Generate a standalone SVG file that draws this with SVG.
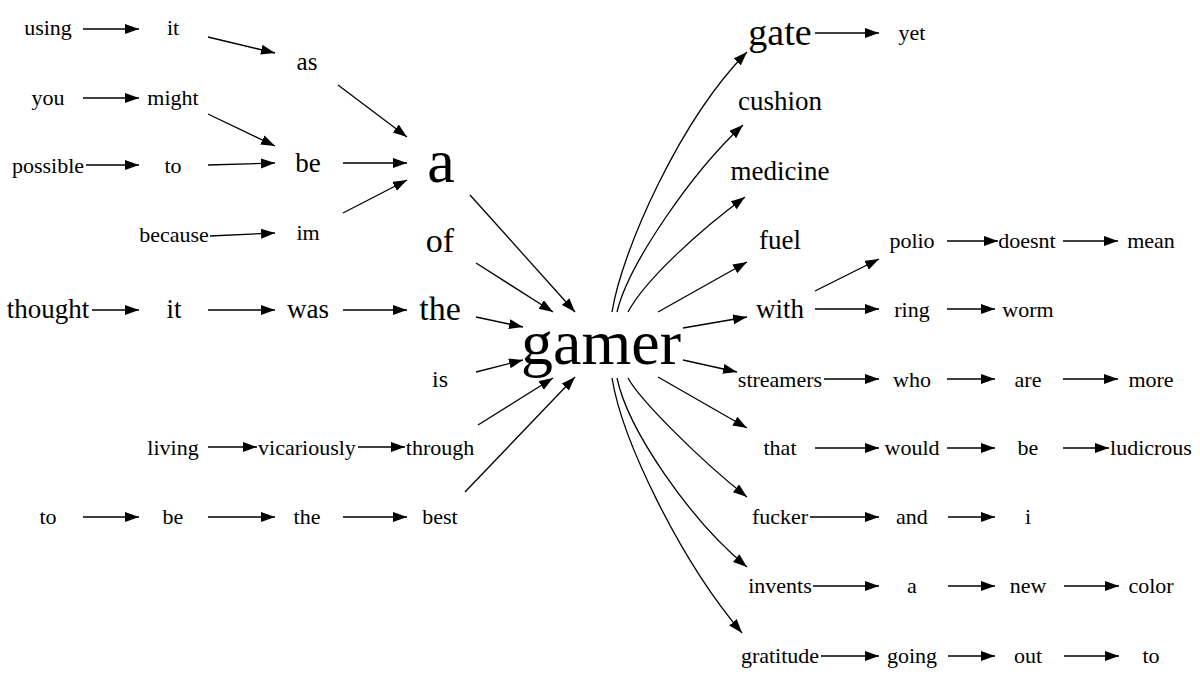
<svg xmlns="http://www.w3.org/2000/svg" width="1200" height="684" viewBox="0 0 1200 684" font-family="'Liberation Serif', 'Times New Roman', serif">
<style>
text{font-family:"Liberation Serif","Times New Roman",serif;fill:#000;text-anchor:middle}
.s{font-size:22px}.m{font-size:27px}.l{font-size:34px}
.e{fill:none;stroke:#000;stroke-width:1.3;marker-end:url(#ah)}
</style>
<defs>
<marker id="ah" markerUnits="userSpaceOnUse" markerWidth="15" markerHeight="11" refX="14" refY="5" orient="auto"><path d="M0,0 L14,5 L0,10 z" fill="#000"/></marker>
</defs>
<rect width="1200" height="684" fill="#fff"/>
<g id="edges">
<line class="e" x1="83" y1="29" x2="139" y2="29"/>
<line class="e" x1="208" y1="37" x2="275" y2="53"/>
<line class="e" x1="83" y1="98" x2="139" y2="98"/>
<line class="e" x1="208" y1="114" x2="275" y2="146"/>
<line class="e" x1="86" y1="165" x2="139" y2="165"/>
<line class="e" x1="208" y1="165" x2="275" y2="163"/>
<line class="e" x1="210" y1="236" x2="275" y2="233"/>
<line class="e" x1="338" y1="85" x2="407" y2="137"/>
<line class="e" x1="343" y1="163" x2="407" y2="163"/>
<line class="e" x1="343" y1="213" x2="407" y2="180"/>
<line class="e" x1="92" y1="310" x2="139" y2="310"/>
<line class="e" x1="208" y1="310" x2="275" y2="310"/>
<line class="e" x1="343" y1="310" x2="407" y2="310"/>
<line class="e" x1="208" y1="447" x2="257" y2="447"/>
<line class="e" x1="358" y1="447" x2="405" y2="447"/>
<line class="e" x1="83" y1="517" x2="139" y2="517"/>
<line class="e" x1="208" y1="517" x2="275" y2="517"/>
<line class="e" x1="343" y1="517" x2="407" y2="517"/>
<line class="e" x1="470" y1="195" x2="575" y2="312"/>
<line class="e" x1="476" y1="263" x2="553" y2="312"/>
<line class="e" x1="476" y1="317" x2="523" y2="327"/>
<line class="e" x1="476" y1="372" x2="523" y2="360"/>
<line class="e" x1="478" y1="425" x2="553" y2="378"/>
<line class="e" x1="465" y1="492" x2="575" y2="377"/>
<path class="e" d="M612,312 C622,250 680,120 747,52"/>
<path class="e" d="M617,312 C628,265 692,172 743,125"/>
<path class="e" d="M628,312 C645,280 700,230 745,197"/>
<line class="e" x1="658" y1="312" x2="747" y2="262"/>
<line class="e" x1="683" y1="328" x2="747" y2="317"/>
<line class="e" x1="683" y1="360" x2="737" y2="372"/>
<line class="e" x1="658" y1="377" x2="747" y2="428"/>
<path class="e" d="M628,378 C640,400 700,460 747,497"/>
<path class="e" d="M617,378 C628,430 690,520 747,567"/>
<path class="e" d="M612,378 C622,440 680,560 742,633"/>
<line class="e" x1="815" y1="33" x2="879" y2="33"/>
<line class="e" x1="947" y1="241" x2="998" y2="241"/>
<line class="e" x1="1063" y1="241" x2="1118" y2="241"/>
<line class="e" x1="815" y1="291" x2="879" y2="259"/>
<line class="e" x1="815" y1="309" x2="879" y2="309"/>
<line class="e" x1="947" y1="309" x2="995" y2="309"/>
<line class="e" x1="824" y1="379" x2="879" y2="379"/>
<line class="e" x1="947" y1="379" x2="995" y2="379"/>
<line class="e" x1="1063" y1="379" x2="1118" y2="379"/>
<line class="e" x1="815" y1="448" x2="879" y2="448"/>
<line class="e" x1="947" y1="448" x2="995" y2="448"/>
<line class="e" x1="1063" y1="448" x2="1109" y2="448"/>
<line class="e" x1="810" y1="517" x2="879" y2="517"/>
<line class="e" x1="948" y1="517" x2="995" y2="517"/>
<line class="e" x1="813" y1="586" x2="879" y2="586"/>
<line class="e" x1="948" y1="586" x2="995" y2="586"/>
<line class="e" x1="1064" y1="586" x2="1119" y2="586"/>
<line class="e" x1="821" y1="656" x2="879" y2="656"/>
<line class="e" x1="948" y1="656" x2="995" y2="656"/>
<line class="e" x1="1064" y1="656" x2="1119" y2="656"/>
</g>
<g id="n_using"><text class="s" x="48" y="35">using</text></g>
<g id="n_it1"><text class="s" x="173" y="35">it</text></g>
<g id="n_as"><text x="307" y="70" style="font-size:25px">as</text></g>
<g id="n_you"><text class="s" x="48" y="105">you</text></g>
<g id="n_might"><text class="s" x="173" y="105">might</text></g>
<g id="n_possible"><text class="s" x="48" y="173">possible</text></g>
<g id="n_to1"><text class="s" x="173" y="173">to</text></g>
<g id="n_be1"><text class="m" x="308" y="172">be</text></g>
<g id="n_because"><text class="s" x="174" y="242">because</text></g>
<g id="n_im"><text class="s" x="308" y="240">im</text></g>
<g id="n_a"><text x="441" y="182" style="font-size:62px">a</text></g>
<g id="n_of"><text class="l" x="440" y="252">of</text></g>
<g id="n_thought"><text class="m" x="48" y="318">thought</text></g>
<g id="n_it2"><text class="m" x="174" y="318">it</text></g>
<g id="n_was"><text class="m" x="308" y="318">was</text></g>
<g id="n_the1"><text class="l" x="440" y="320">the</text></g>
<g id="n_is"><text x="440" y="387" style="font-size:24px">is</text></g>
<g id="n_living"><text class="s" x="173" y="455">living</text></g>
<g id="n_vicariously"><text class="s" x="307" y="455">vicariously</text></g>
<g id="n_through"><text class="s" x="440" y="455">through</text></g>
<g id="n_to2"><text class="s" x="48" y="524">to</text></g>
<g id="n_be2"><text class="s" x="173" y="524">be</text></g>
<g id="n_the2"><text class="s" x="307" y="524">the</text></g>
<g id="n_best"><text class="s" x="440" y="524">best</text></g>
<g id="n_gamer"><text x="601" y="364" style="font-size:64px">gamer</text></g>
<g id="n_gate"><text x="780" y="45" style="font-size:38px">gate</text></g>
<g id="n_yet"><text class="s" x="912" y="40">yet</text></g>
<g id="n_cushion"><text class="m" x="780" y="110">cushion</text></g>
<g id="n_medicine"><text class="m" x="780" y="180">medicine</text></g>
<g id="n_fuel"><text class="m" x="780" y="249">fuel</text></g>
<g id="n_polio"><text class="s" x="912" y="248">polio</text></g>
<g id="n_doesnt"><text class="s" x="1027" y="248">doesnt</text></g>
<g id="n_mean"><text class="s" x="1151" y="248">mean</text></g>
<g id="n_with"><text class="m" x="780" y="318">with</text></g>
<g id="n_ring"><text class="s" x="912" y="317">ring</text></g>
<g id="n_worm"><text class="s" x="1028" y="317">worm</text></g>
<g id="n_streamers"><text class="s" x="780" y="387">streamers</text></g>
<g id="n_who"><text class="s" x="912" y="387">who</text></g>
<g id="n_are"><text class="s" x="1028" y="387">are</text></g>
<g id="n_more"><text class="s" x="1151" y="387">more</text></g>
<g id="n_that"><text class="s" x="780" y="455">that</text></g>
<g id="n_would"><text class="s" x="912" y="455">would</text></g>
<g id="n_be3"><text class="s" x="1028" y="455">be</text></g>
<g id="n_ludicrous"><text class="s" x="1151" y="455">ludicrous</text></g>
<g id="n_fucker"><text class="s" x="780" y="524">fucker</text></g>
<g id="n_and"><text class="s" x="912" y="524">and</text></g>
<g id="n_i"><text class="s" x="1028" y="524">i</text></g>
<g id="n_invents"><text class="s" x="780" y="593">invents</text></g>
<g id="n_a2"><text class="s" x="912" y="593">a</text></g>
<g id="n_new"><text class="s" x="1028" y="593">new</text></g>
<g id="n_color"><text class="s" x="1151" y="593">color</text></g>
<g id="n_gratitude"><text class="s" x="780" y="663">gratitude</text></g>
<g id="n_going"><text class="s" x="912" y="663">going</text></g>
<g id="n_out"><text class="s" x="1028" y="663">out</text></g>
<g id="n_to3"><text class="s" x="1151" y="663">to</text></g>
</svg>
